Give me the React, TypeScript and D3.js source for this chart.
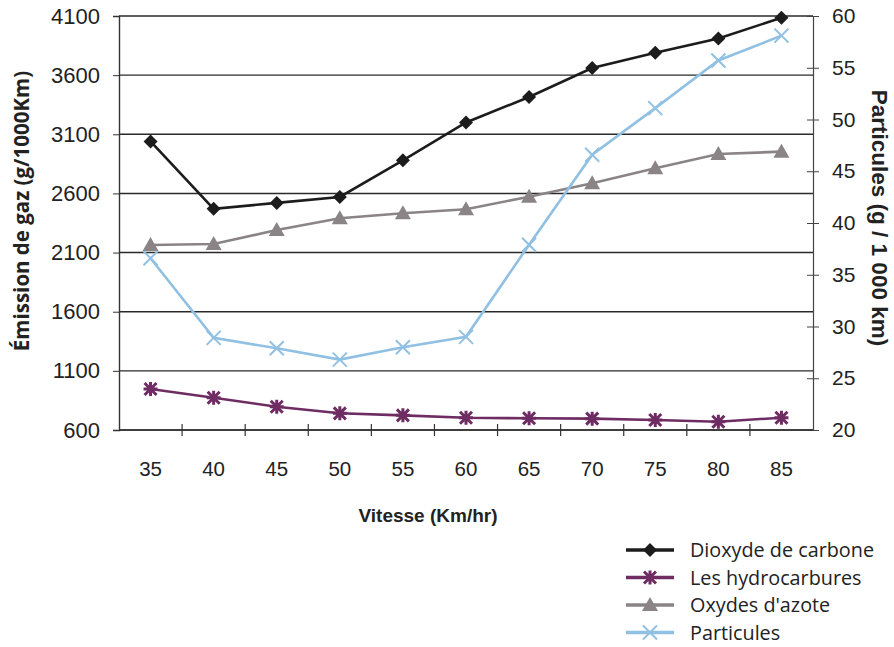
import React, { useEffect, useRef } from 'react';
import * as d3 from 'd3';

const speeds = ['35', '40', '45', '50', '55', '60', '65', '70', '75', '80', '85'];
const co2 = [3040, 2470, 2520, 2570, 2880, 3200, 3415, 3660, 3790, 3910, 4085];
const hydrocarbons = [947, 873, 797, 741, 724, 704, 699, 696, 685, 670, 704];
const nox = [2164, 2172, 2291, 2390, 2432, 2466, 2572, 2686, 2812, 2933, 2953];
const particles = [36.6, 28.9, 27.9, 26.8, 28.0, 29.0, 37.9, 46.6, 51.1, 55.7, 58.1];
const leftTicks = [600, 1100, 1600, 2100, 2600, 3100, 3600, 4100];
const rightTicks = [20, 25, 30, 35, 40, 45, 50, 55, 60];

const seriesNames = ['Dioxyde de carbone', 'Les hydrocarbures', "Oxydes d'azote", 'Particules'];

const W = 894;
const H = 647;
const margin = { left: 119, right: 81, top: 16, bottom: 217 };

function drawMarker(g, kind, x, y, color) {
  if (kind === 'diamond') {
    g.append('path')
      .attr('d', `M${x},${y - 7}L${x + 7},${y}L${x},${y + 7}L${x - 7},${y}Z`)
      .attr('fill', color);
  } else if (kind === 'star') {
    const s = 6;
    g.append('path')
      .attr('d', `M${x - s},${y - s}L${x + s},${y + s}M${x - s},${y + s}L${x + s},${y - s}M${x},${y - s - 1}L${x},${y + s + 1}M${x - s - 1},${y}L${x + s + 1},${y}`)
      .attr('stroke', color)
      .attr('stroke-width', 3);
  } else if (kind === 'triangle') {
    g.append('path')
      .attr('d', `M${x},${y - 8}L${x + 8},${y + 6}L${x - 8},${y + 6}Z`)
      .attr('fill', color);
  } else if (kind === 'cross') {
    const s = 7;
    g.append('path')
      .attr('d', `M${x - s},${y - s}L${x + s},${y + s}M${x - s},${y + s}L${x + s},${y - s}`)
      .attr('stroke', color)
      .attr('stroke-width', 2);
  }
}

function Chart() {
  const svgRef = useRef(null);

  useEffect(() => {
    const svg = d3.select(svgRef.current);
    svg.selectAll('*').remove();

    const x0 = margin.left;
    const x1 = W - margin.right;
    const y0 = H - margin.bottom;
    const y1 = margin.top;

    const x = d3.scaleBand().domain(speeds).range([x0, x1]);
    const cx = (d) => x(d) + x.bandwidth() / 2;
    const yL = d3.scaleLinear().domain([600, 4100]).range([y0, y1]);
    const yR = d3.scaleLinear().domain([20, 60]).range([y0, y1]);

    const tickFont = "'Liberation Sans', Arial, sans-serif";

    // gridlines
    svg.append('g')
      .selectAll('line')
      .data(leftTicks)
      .join('line')
      .attr('x1', x0)
      .attr('x2', x1)
      .attr('y1', (d) => yL(d))
      .attr('y2', (d) => yL(d))
      .attr('stroke', '#2a2a2a')
      .attr('stroke-width', 1.4);

    // left axis
    const left = svg.append('g').attr('transform', `translate(${x0},0)`)
      .call(d3.axisLeft(yL).tickValues(leftTicks).tickFormat(d3.format('d')).tickSize(6).tickPadding(13));
    left.select('.domain').attr('stroke', '#333').attr('stroke-width', 1.4);
    left.selectAll('.tick line').attr('stroke', '#333');
    left.selectAll('text').attr('font-size', 22).attr('font-family', tickFont).attr('fill', '#222');

    // right axis with crossing ticks
    const right = svg.append('g').attr('transform', `translate(${x1},0)`)
      .call(d3.axisRight(yR).tickValues(rightTicks).tickSize(6).tickPadding(13));
    right.select('.domain').attr('stroke', '#444').attr('stroke-width', 1.2);
    right.selectAll('.tick line').attr('x1', -6).attr('stroke', '#444');
    right.selectAll('text').attr('font-size', 21).attr('font-family', tickFont).attr('fill', '#222');

    // bottom axis: labels centered, ticks at category boundaries crossing the line
    const bottom = svg.append('g').attr('transform', `translate(0,${y0})`);
    bottom.append('line').attr('x1', x0).attr('x2', x1).attr('stroke', '#333').attr('stroke-width', 1.4);
    bottom.selectAll('line.t')
      .data(speeds.slice(1))
      .join('line')
      .attr('class', 't')
      .attr('x1', (d) => x(d))
      .attr('x2', (d) => x(d))
      .attr('y1', -6)
      .attr('y2', 6)
      .attr('stroke', '#333')
      .attr('stroke-width', 1.2);
    bottom.selectAll('text')
      .data(speeds)
      .join('text')
      .attr('x', (d) => cx(d))
      .attr('y', 46)
      .attr('text-anchor', 'middle')
      .attr('font-size', 20.5)
      .attr('font-family', tickFont)
      .attr('fill', '#222')
      .text((d) => d);

    // axis titles
    svg.append('text')
      .attr('transform', `translate(29,${(y0 + y1) / 2 - 12}) rotate(-90)`)
      .attr('text-anchor', 'middle')
      .attr('font-size', 20.5)
      .attr('font-weight', 'bold')
      .attr('font-family', "'Open Sans', sans-serif")
      .attr('fill', '#222')
      .text('Émission de gaz (g/1000Km)');

    svg.append('text')
      .attr('transform', `translate(872,${(y0 + y1) / 2 - 5}) rotate(90)`)
      .attr('text-anchor', 'middle')
      .attr('font-size', 22.5)
      .attr('font-weight', 'bold')
      .attr('font-family', tickFont)
      .attr('fill', '#222')
      .text('Particules (g / 1 000 km)');

    svg.append('text')
      .attr('x', 428)
      .attr('y', 522)
      .attr('text-anchor', 'middle')
      .attr('font-size', 19)
      .attr('font-weight', 'bold')
      .attr('font-family', tickFont)
      .attr('fill', '#222')
      .text('Vitesse (Km/hr)');

    const series = [
      { name: seriesNames[0], data: co2, scale: yL, color: '#1c1c1c', marker: 'diamond', width: 2.6 },
      { name: seriesNames[1], data: hydrocarbons, scale: yL, color: '#6e2c63', marker: 'star', width: 2.6 },
      { name: seriesNames[2], data: nox, scale: yL, color: '#8a8486', marker: 'triangle', width: 2.6 },
      { name: seriesNames[3], data: particles, scale: yR, color: '#90c0e2', marker: 'cross', width: 2.6 },
    ];

    series.forEach((s) => {
      const line = d3.line()
        .x((d, i) => cx(speeds[i]))
        .y((d) => s.scale(d));
      svg.append('path')
        .datum(s.data)
        .attr('fill', 'none')
        .attr('stroke', s.color)
        .attr('stroke-width', s.width)
        .attr('d', line);
      const g = svg.append('g');
      s.data.forEach((v, i) => drawMarker(g, s.marker, cx(speeds[i]), s.scale(v), s.color));
    });

    // legend
    const legend = svg.append('g');
    series.forEach((s, i) => {
      const ly = 550 + i * 27.5;
      legend.append('line')
        .attr('x1', 626)
        .attr('x2', 674)
        .attr('y1', ly)
        .attr('y2', ly)
        .attr('stroke', s.color)
        .attr('stroke-width', 3.5);
      drawMarker(legend, s.marker, 650, ly, s.color);
      legend.append('text')
        .attr('x', 690)
        .attr('y', ly + 7)
        .attr('font-size', 19.8)
        .attr('font-family', "'Open Sans', sans-serif")
        .attr('fill', '#222')
        .text(s.name);
    });
  }, []);

  return <svg ref={svgRef} width={W} height={H} style={{ display: 'block' }} />;
}

export default function App() {
  return (
    <div style={{ position: 'absolute', left: 0, top: 0, background: '#fff' }}>
      <Chart />
    </div>
  );
}
